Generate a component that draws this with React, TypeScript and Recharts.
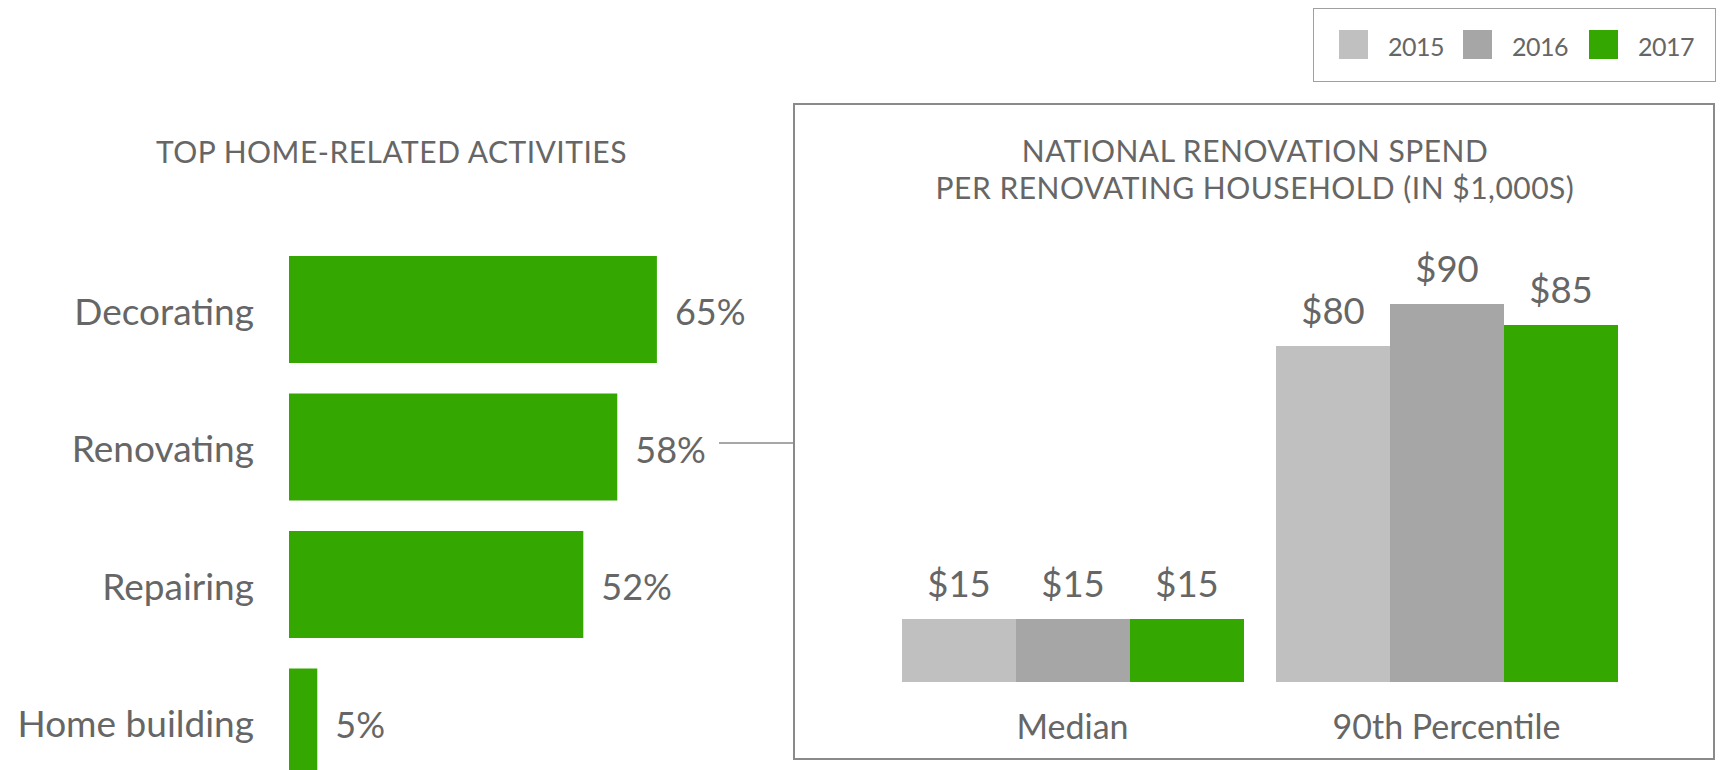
import React from 'react';
import { BarChart, Bar, XAxis, YAxis, LabelList } from 'recharts';

const activityCategories = ['Decorating', 'Renovating', 'Repairing', 'Home building'];
const activityValues = [65, 58, 52, 5];

const spendCategories = ['Median', '90th Percentile'];
const spend2015 = [15, 80];
const spend2016 = [15, 90];
const spend2017 = [15, 85];
const years = ['2015', '2016', '2017'];
const yearKeys = ['y2015', 'y2016', 'y2017'];
const yearColors = ['#c0c0c0', '#a6a6a6', '#34a700'];

const leftTitle = 'TOP HOME-RELATED ACTIVITIES';
const rightTitle = ['NATIONAL RENOVATION SPEND', 'PER RENOVATING HOUSEHOLD (IN $1,000S)'];

const activityData = activityCategories.map((c, i) => ({ name: c, value: activityValues[i] }));
const spendData = spendCategories.map((c, i) => ({
  name: c,
  y2015: spend2015[i],
  y2016: spend2016[i],
  y2017: spend2017[i],
}));

const FONT = 'Lato, sans-serif';
const TXT = '#666666';
const GREEN = '#34a700';

const LeftTick = (props: any) => {
  const { x, y, payload } = props;
  return (
    <text x={x} y={y} dy={15} textAnchor="end" fontFamily={FONT} fontSize={37} fill={TXT}>
      {payload.value}
    </text>
  );
};

const BottomTick = (props: any) => {
  const { x, y, payload } = props;
  return (
    <text x={x} y={y} dy={57} textAnchor="middle" fontFamily={FONT} fontSize={34} fill={TXT}>
      {payload.value}
    </text>
  );
};

const pctLabel = (props: any) => {
  const { x, y, width, height, value } = props;
  return (
    <text x={x + width + 18} y={y + height / 2} dy={15.5} textAnchor="start" fontFamily={FONT} fontSize={36} fill={TXT}>
      {value}%
    </text>
  );
};

const dollarLabel = (props: any) => {
  const { x, y, width, value } = props;
  return (
    <text x={x + width / 2} y={y} dy={-22} textAnchor="middle" fontFamily={FONT} fontSize={36.5} fill={TXT}>
      ${value}
    </text>
  );
};

export default function App() {
  return (
    <div
      style={{
        position: 'absolute',
        left: 0,
        top: 0,
        width: 1721,
        height: 770,
        overflow: 'hidden',
        background: '#fff',
        fontFamily: FONT,
      }}
    >
      <div style={{ position: 'absolute', left: 0, top: 0 }}>
        <BarChart
          width={900}
          height={800}
          layout="vertical"
          data={activityData}
          margin={{ top: 240.75, right: 45, bottom: 9.25, left: 0 }}
          barCategoryGap={15.25}
        >
          <XAxis type="number" domain={[0, 100]} hide />
          <YAxis
            type="category"
            dataKey="name"
            width={289}
            axisLine={false}
            tickLine={false}
            tickSize={0}
            tickMargin={35}
            tick={<LeftTick />}
            interval={0}
          />
          <Bar dataKey="value" fill={GREEN} isAnimationActive={false}>
            <LabelList dataKey="value" content={pctLabel} />
          </Bar>
        </BarChart>
      </div>

      <div
        style={{
          position: 'absolute',
          left: 793,
          top: 103,
          width: 922,
          height: 657,
          border: '2px solid #8a8a8a',
          boxSizing: 'border-box',
        }}
      />
      <div style={{ position: 'absolute', left: 793, top: 103 }}>
        <BarChart
          width={922}
          height={657}
          data={spendData}
          margin={{ top: 159, right: 81.5, bottom: 48, left: 92.5 }}
          barGap={0}
          barCategoryGap={16.5}
        >
          <XAxis
            dataKey="name"
            axisLine={false}
            tickLine={false}
            tickSize={0}
            tickMargin={0}
            height={30}
            tick={<BottomTick />}
            interval={0}
          />
          <YAxis type="number" domain={[0, 100]} hide />
          {yearKeys.map((k, i) => (
            <Bar key={k} dataKey={k} fill={yearColors[i]} isAnimationActive={false}>
              <LabelList dataKey={k} content={dollarLabel} />
            </Bar>
          ))}
        </BarChart>
      </div>

      <svg
        width={1721}
        height={770}
        style={{ position: 'absolute', left: 0, top: 0, pointerEvents: 'none' }}
      >
        <text x={391.5} y={163} textAnchor="middle" fontFamily={FONT} fontSize={30} letterSpacing={0.5} fill={TXT}>
          {leftTitle}
        </text>
        <text x={1255} y={162} textAnchor="middle" fontFamily={FONT} fontSize={30} letterSpacing={0.5} fill={TXT}>
          {rightTitle[0]}
        </text>
        <text x={1255} y={199} textAnchor="middle" fontFamily={FONT} fontSize={30} letterSpacing={0.5} fill={TXT}>
          {rightTitle[1]}
        </text>
        <line x1={719} y1={443} x2={793} y2={443} stroke="#8a8a8a" strokeWidth={1.5} />

        <rect x={1313.5} y={8.5} width={402} height={73} fill="#fff" stroke="#a0a0a0" strokeWidth={1} />
        {years.map((yr, i) => {
          const sx = [1339, 1463, 1589][i];
          return (
            <g key={yr}>
              <rect x={sx} y={30} width={29} height={29} fill={yearColors[i]} />
              <text x={sx + 49} y={55.5} fontFamily={FONT} fontSize={25} letterSpacing={-0.5} fill={TXT}>
                {yr}
              </text>
            </g>
          );
        })}
      </svg>
    </div>
  );
}
